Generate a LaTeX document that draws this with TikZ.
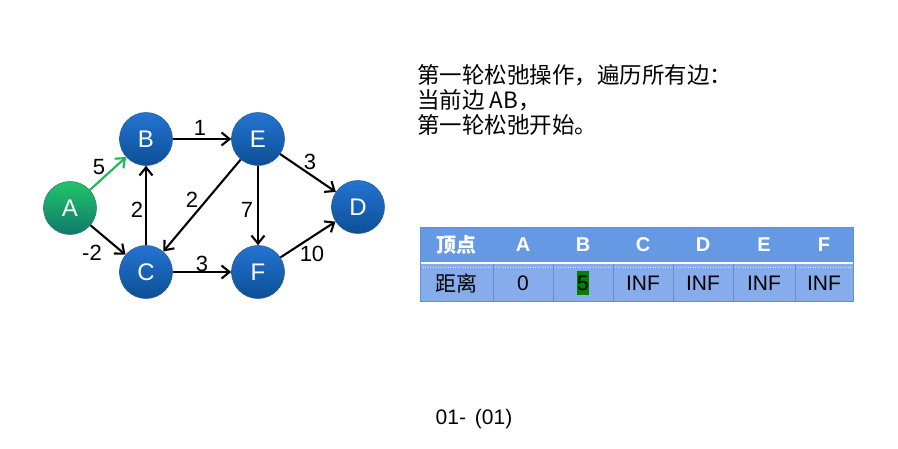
\documentclass[tikz,border=0pt]{standalone}
\usepackage{fontspec}
\setmainfont{Liberation Sans}
\newfontfamily\cjk{Noto Sans CJK SC}
\usetikzlibrary{arrows.meta}
\definecolor{nodetop}{HTML}{2574D2}
\definecolor{nodebot}{HTML}{0B4F96}
\definecolor{greentop}{HTML}{22C468}
\definecolor{greenbot}{HTML}{0F7A6C}
\definecolor{edgegreen}{HTML}{1DB954}
\definecolor{hdrblue}{HTML}{6699E3}
\definecolor{rowblue}{HTML}{86ACEC}
\definecolor{gridblue}{HTML}{5F8FDA}
\definecolor{hl}{HTML}{008000}
\tikzset{
  vtx/.style={circle, minimum size=53pt, inner sep=0pt, draw=nodebot!70!gray, line width=0.6pt,
    top color=nodetop, bottom color=nodebot, text=white, font=\fontsize{24}{24}\selectfont},
  vtxg/.style={vtx, top color=greentop, bottom color=greenbot, draw=greenbot!70!gray},
  edge/.style={line width=2.1pt, -{Straight Barb[length=8pt,width=13pt,line width=2.1pt]}},
  wlab/.style={font=\fontsize{22}{22}\selectfont, inner sep=0pt},
  hdr/.style={font=\bfseries\fontsize{20}{20}\selectfont, text=white},
  cell/.style={font=\fontsize{21}{21}\selectfont, text=black},
  txt/.style={anchor=west, inner sep=0pt, font=\fontsize{22.5}{22.5}\selectfont},
}
\begin{document}
\begin{tikzpicture}[x=1pt,y=-1pt]
\useasboundingbox (0,0) rectangle (898,448);
\fill[white] (0,0) rectangle (898,448);
% nodes
\node[vtxg] (A) at (70,208) {A};
\node[vtx] (B) at (146,139) {B};
\node[vtx] (E) at (258,139) {E};
\node[vtx] (C) at (146,272) {C};
\node[vtx] (F) at (258,272) {F};
\node[vtx] (D) at (358,207) {D};
% edges
\draw[edge, edgegreen] (A) -- (B);
\draw[edge] (A) -- (C);
\draw[edge] (B) -- (E);
\draw[edge] (C) -- (B);
\draw[edge] (E) -- (C);
\draw[edge] (E) -- (F);
\draw[edge] (E) -- (D);
\draw[edge] (C) -- (F);
\draw[edge] (F) -- (D);
% weights
\node[wlab] (w1) at (200,128) {1};
\node[wlab] (w2) at (99,167) {5};
\node[wlab] (w3) at (137,210) {2};
\node[wlab] (w4) at (192,200) {2};
\node[wlab] (w5) at (247,210) {7};
\node[wlab] (w6) at (310,162) {3};
\node[wlab] (w7) at (92,253) {-2};
\node[wlab] (w8) at (202,264) {3};
\node[wlab] (w9) at (312,254) {10};
% text block
\node[txt] (t1) at (417,75) {\cjk 第一轮松弛操作，遍历所有边：};
\node[txt] (t2) at (417,100) {\cjk 当前边 AB，};
\node[txt] (t3) at (417,125) {\cjk 第一轮松弛开始。};
% table
\fill[hdrblue] (420,227) rectangle (853,262);
\fill[rowblue] (420,264) rectangle (853,301);
\draw[white, line width=1pt] (420,263) -- (853,263);
\draw[white, dotted, line width=0.5pt, opacity=0.7] (420,267) -- (853,267);
\foreach \x in {493,553,613,673,733,795} {
  \draw[gridblue, line width=0.8pt] (\x,264) -- (\x,301);
}
\draw[gridblue, line width=0.8pt] (420,227) rectangle (853,301);
\node[hdr] (h0) at (456.5,245) {\cjk\bfseries 顶点};
\node[hdr] (h1) at (523,245) {A};
\node[hdr] (h2) at (583,245) {B};
\node[hdr] (h3) at (643,245) {C};
\node[hdr] (h4) at (703,245) {D};
\node[hdr] (h5) at (764,245) {E};
\node[hdr] (h6) at (824,245) {F};
\node[cell] (c0) at (456.5,283) {\cjk 距离};
\node[cell] (c1) at (523,283) {0};
\node[cell, fill=hl, inner sep=0.5pt, minimum height=24pt] (c2) at (583,283) {5};
\node[cell] (c3) at (643,283) {INF};
\node[cell] (c4) at (703,283) {INF};
\node[cell] (c5) at (764,283) {INF};
\node[cell] (c6) at (824,283) {INF};
% footer
\node[font=\fontsize{21}{21}\selectfont] (pg) at (474,419) {01-\hspace{9pt}(01)};
\end{tikzpicture}
\end{document}
